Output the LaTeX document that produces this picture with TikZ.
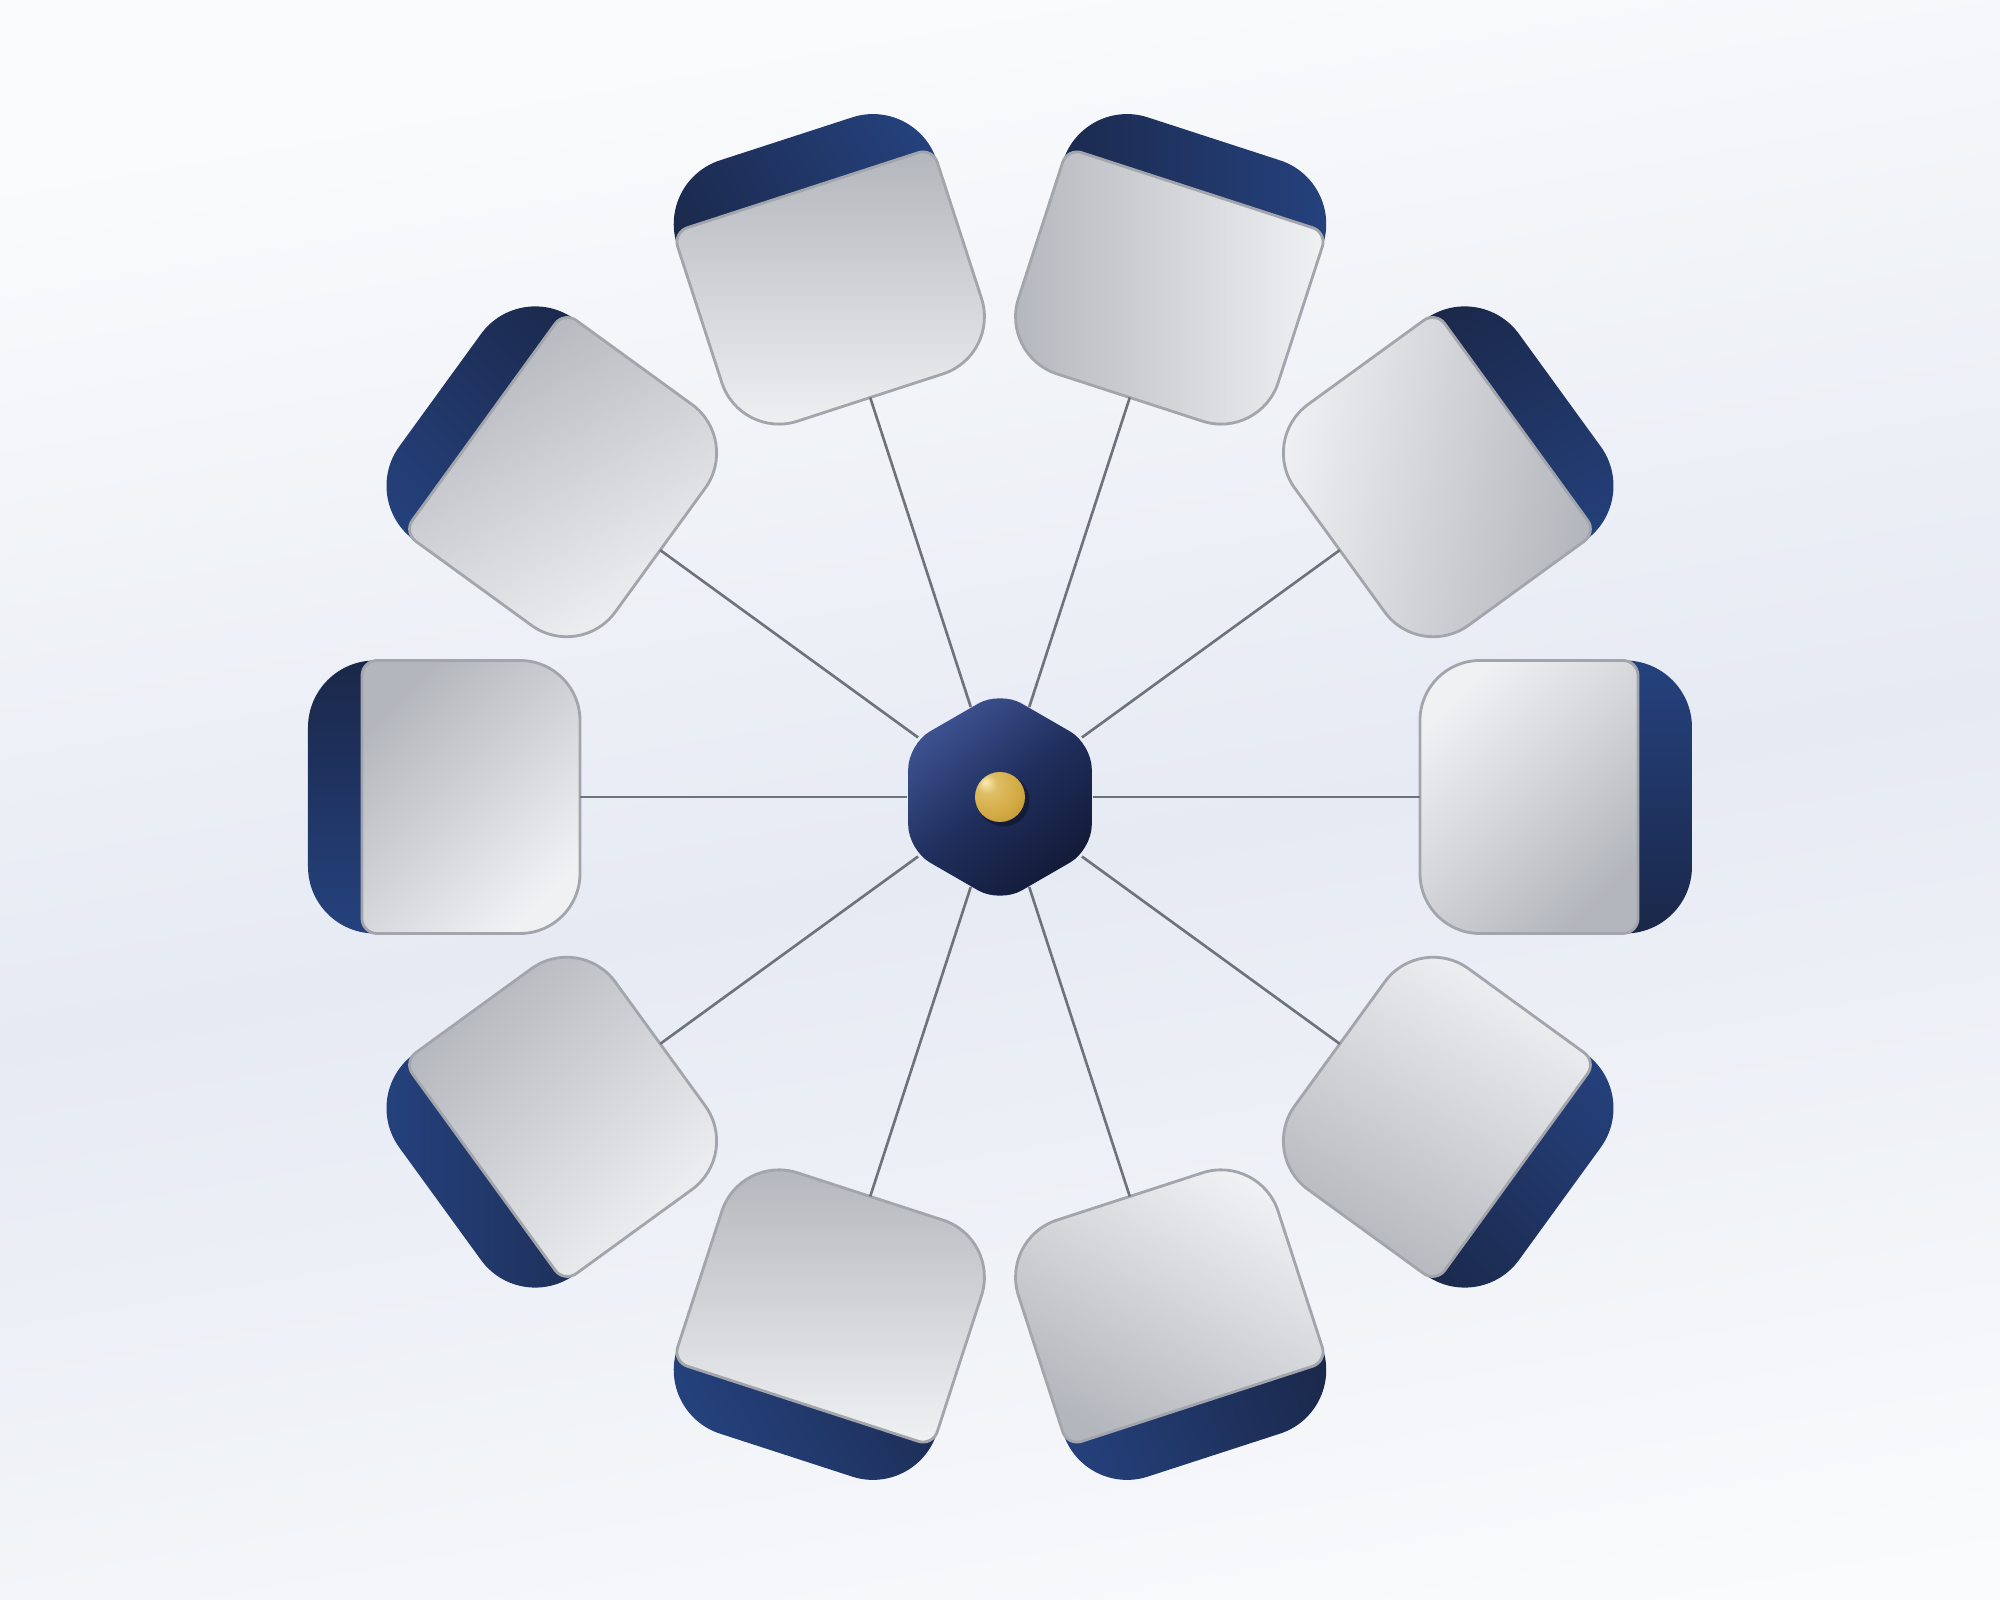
\documentclass[tikz,border=0pt]{standalone}
\usepackage{xcolor}
\usepackage{tikz}
\usetikzlibrary{shapes.geometric}
\definecolor{bgtop}{HTML}{FAFBFC}
\definecolor{bgmid}{HTML}{E6EAF3}
\definecolor{cardlight}{HTML}{F0F1F3}
\definecolor{carddark}{HTML}{B3B6BC}
\definecolor{cardrim}{HTML}{A2A5AB}
\definecolor{bandlight}{HTML}{25427E}
\definecolor{banddark}{HTML}{1A2748}
\definecolor{hublight}{HTML}{3E5392}
\definecolor{hubmid}{HTML}{1F2E5C}
\definecolor{hubdark}{HTML}{121A36}
\definecolor{spokegray}{HTML}{6E727A}
\definecolor{goldhi}{HTML}{FAEBB4}
\definecolor{goldmid}{HTML}{D3AA43}
\definecolor{golddark}{HTML}{7A5A16}
\pgfdeclareverticalshading{bgband}{100bp}{color(0bp)=(bgtop); color(22bp)=(bgtop); color(48bp)=(bgmid); color(74bp)=(bgtop); color(100bp)=(bgtop)}
\pgfdeclareradialshading{goldball}{\pgfpoint{-15bp}{15bp}}{color(0bp)=(goldhi); color(10bp)=(goldmid!70!goldhi); color(28bp)=(goldmid); color(52bp)=(goldmid!50!golddark); color(72bp)=(golddark)}
\tikzset{
	% one petal: rotation / dark side of the face / light side of the band
	pics/card/.style args={#1/#2/#3}{code={
		\begin{scope}[rotate=#1]
		\shade [navyband, shading angle=#3-90] (5.0,-1.365) -- (6.25,-1.365) arc (-90:0:0.67) -- (6.92,0.695) arc (0:90:0.67) -- (5.0,1.365) -- cycle;
		\shadedraw [cardface, shading angle=#2-90] (4.8,-1.365) -- (6.23,-1.365) arc (-90:0:0.15) -- (6.38,1.215) arc (0:90:0.15) -- (4.8,1.365) arc (90:180:0.6) -- (4.2,-0.765) arc (180:270:0.6) -- cycle;
		\end{scope}
	}}
}

\begin{document}
\begin{tikzpicture}
\tikzstyle{navyband}=[top color=bandlight, bottom color=banddark]
\tikzstyle{cardface}=[top color=carddark, bottom color=cardlight, draw=cardrim, line width=0.8pt]
\tikzstyle{hubstyle}=[regular polygon, regular polygon sides=6, regular polygon rotate=30, minimum size=2.12cm, inner sep=0pt, rounded corners=0.25cm, top color=hublight, bottom color=hubdark, middle color=hubmid, shading angle=40]
\tikzstyle{pinstyle}=[circle, minimum size=0.5cm, inner sep=0pt, shading=goldball]
\tikzstyle{spokeline}=[spokegray, line width=0.75pt]
\shade [shading=bgband, shading angle=10] (-10,-8.03) rectangle (10,7.97);
\useasboundingbox (-10,-8.03) rectangle (10,7.97);
\pic {card=0/-45/90};
\pic {card=36/-10/-60};
\pic {card=72/180/0};
\pic {card=108/90/30};
\pic {card=144/120/225};
\pic {card=180/135/270};
\pic {card=216/135/180};
\pic {card=252/90/210};
\pic {card=288/240/200};
\pic {card=324/240/45};
\coordinate (c1) at (0:4.2);
\coordinate (c2) at (36:4.2);
\coordinate (c3) at (72:4.2);
\coordinate (c4) at (108:4.2);
\coordinate (c5) at (144:4.2);
\coordinate (c6) at (180:4.2);
\coordinate (c7) at (216:4.2);
\coordinate (c8) at (252:4.2);
\coordinate (c9) at (288:4.2);
\coordinate (c10) at (324:4.2);
\node [hubstyle] (hub) at (0,0) {};
\draw [spokeline] (hub) -- (c1);
\draw [spokeline] (hub) -- (c2);
\draw [spokeline] (hub) -- (c3);
\draw [spokeline] (hub) -- (c4);
\draw [spokeline] (hub) -- (c5);
\draw [spokeline] (hub) -- (c6);
\draw [spokeline] (hub) -- (c7);
\draw [spokeline] (hub) -- (c8);
\draw [spokeline] (hub) -- (c9);
\draw [spokeline] (hub) -- (c10);
\fill [black, opacity=0.3] (0.035,-0.035) circle (0.26);
\node [pinstyle] (pin) at (0,0) {};
\end{tikzpicture}
\end{document}
